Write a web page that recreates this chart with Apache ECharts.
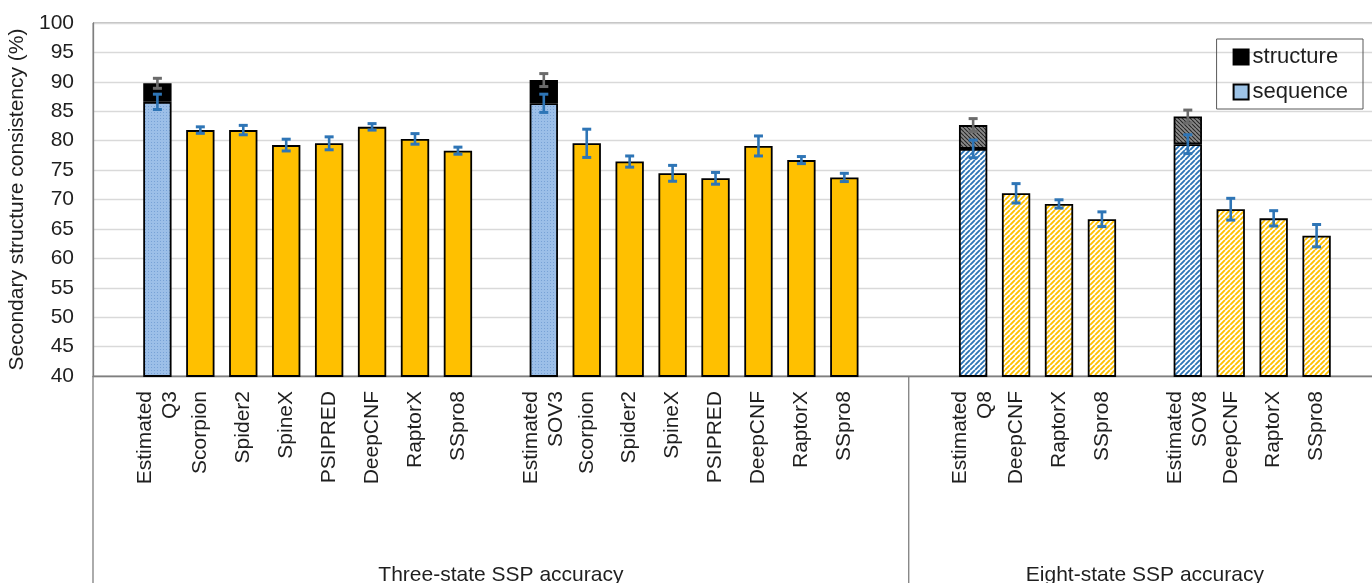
<!DOCTYPE html>
<html>
<head>
<meta charset="utf-8">
<script src="https://cdn.jsdelivr.net/npm/echarts@6/dist/echarts.min.js"></script>
<style>
  html, body { margin: 0; padding: 0; background: #fff; }
  #chart { width: 1372px; height: 583px; }
</style>
</head>
<body>
<div id="chart"></div>
<script>
// Category slots along the x axis (blank strings are spacer slots between groups)
const categories = [
  '', 'Estimated\nQ3', 'Scorpion', 'Spider2', 'SpineX', 'PSIPRED', 'DeepCNF', 'RaptorX', 'SSpro8',
  '', 'Estimated\nSOV3', 'Scorpion', 'Spider2', 'SpineX', 'PSIPRED', 'DeepCNF', 'RaptorX', 'SSpro8',
  '', '', 'Estimated\nQ8', 'DeepCNF', 'RaptorX', 'SSpro8',
  '', 'Estimated\nSOV8', 'DeepCNF', 'RaptorX', 'SSpro8', ''
];

// Group captions and how many category slots each group spans
const groupLabels = ['Three-state SSP accuracy', 'Eight-state SSP accuracy'];
const groupSpans = [19, 11];

// Estimated consistency: sequence part and total (sequence + structure)
const sequence = [
  null, 86.6, null, null, null, null, null, null, null,
  null, 86.35, null, null, null, null, null, null, null,
  null, null, 78.6, null, null, null,
  null, 79.4, null, null, null, null
];
const sequenceErr = [
  null, 1.3, null, null, null, null, null, null, null,
  null, 1.55, null, null, null, null, null, null, null,
  null, null, 1.5, null, null, null,
  null, 1.6, null, null, null, null
];
const estimatedTotal = [
  null, 89.75, null, null, null, null, null, null, null,
  null, 90.3, null, null, null, null, null, null, null,
  null, null, 82.65, null, null, null,
  null, 84.1, null, null, null, null
];
const estimatedTotalErr = [
  null, 0.85, null, null, null, null, null, null, null,
  null, 1.1, null, null, null, null, null, null, null,
  null, null, 1.1, null, null, null,
  null, 1.1, null, null, null, null
];

// Predictor accuracy and its spread
const predictors = [
  null, null, 81.8, 81.8, 79.25, 79.55, 82.35, 80.3, 78.3,
  null, null, 79.55, 76.45, 74.45, 73.6, 79.1, 76.7, 73.75,
  null, null, null, 71.05, 69.25, 66.65,
  null, null, 68.35, 66.8, 63.85, null
];
const predictorsErr = [
  null, null, 0.55, 0.8, 1.0, 1.1, 0.55, 0.9, 0.6,
  null, null, 2.4, 0.95, 1.35, 1.0, 1.7, 0.6, 0.7,
  null, null, null, 1.65, 0.7, 1.25,
  null, null, 1.85, 1.3, 1.9, null
];

const yTicks = { min: 40, max: 100, step: 5 };

// ---- fill patterns ----
// rising = true draws "/" stripes, false draws "\" stripes
function stripes(bg, fg, size, lw, rising) {
  const c = document.createElement('canvas');
  c.width = c.height = size;
  const g = c.getContext('2d');
  g.fillStyle = bg; g.fillRect(0, 0, size, size);
  g.strokeStyle = fg; g.lineWidth = lw;
  g.beginPath();
  for (const o of [-size, 0, size]) {
    if (rising) { g.moveTo(o, size); g.lineTo(o + size, 0); }
    else { g.moveTo(o, 0); g.lineTo(o + size, size); }
  }
  g.stroke();
  return { image: c, repeat: 'repeat' };
}
function dots(bg, fg) {
  const c = document.createElement('canvas');
  c.width = c.height = 3;
  const g = c.getContext('2d');
  g.fillStyle = bg; g.fillRect(0, 0, 3, 3);
  g.fillStyle = fg; g.fillRect(1, 1, 1, 1);
  return { image: c, repeat: 'repeat' };
}

const BLUE_ERR = '#2e75b6';
const GRAY_ERR = '#6b6b6b';
const ORANGE = '#ffc000';
const LIGHT_BLUE = '#9dc3e6';

const dotBlue = dots('#9cbfe8', '#78a2d6');
const stripeBlue = stripes('#ffffff', '#2e75b6', 5, 1.9, true);
const stripeOrange = stripes('#ffffff', ORANGE, 5, 1.9, true);
const hatchGray = stripes('#8a8a8a', '#262626', 4, 1.1, false);

const eightStart = groupSpans[0];
const isEight = i => i >= eightStart;

const seqData = sequence.map((v, i) => v == null ? '-' : {
  value: v, itemStyle: { color: isEight(i) ? stripeBlue : dotBlue }
});
const structData = estimatedTotal.map((v, i) => v == null ? '-' : {
  value: +(v - sequence[i]).toFixed(3), itemStyle: { color: isEight(i) ? hatchGray : '#000' }
});
const predData = predictors.map((v, i) => v == null ? '-' : {
  value: v, itemStyle: { color: isEight(i) ? stripeOrange : ORANGE }
});

function errRows(vals, errs) {
  const rows = [];
  vals.forEach((v, i) => { if (v != null && errs[i] != null) rows.push([i, v - errs[i], v + errs[i]]); });
  return rows;
}
const blueErr = errRows(sequence, sequenceErr).concat(errRows(predictors, predictorsErr));
const grayErr = errRows(estimatedTotal, estimatedTotalErr);

function errorBar(color) {
  return function (params, api) {
    const x = api.value(0);
    const lo = api.coord([x, api.value(1)]);
    const hi = api.coord([x, api.value(2)]);
    const hw = 4.5;
    const style = { stroke: color, lineWidth: 2.6, fill: null };
    const cap = { stroke: color, lineWidth: 3, fill: null };
    return {
      type: 'group',
      children: [
        { type: 'line', shape: { x1: lo[0], y1: lo[1], x2: hi[0], y2: hi[1] }, style },
        { type: 'line', shape: { x1: lo[0] - hw, y1: lo[1], x2: lo[0] + hw, y2: lo[1] }, style: cap },
        { type: 'line', shape: { x1: hi[0] - hw, y1: hi[1], x2: hi[0] + hw, y2: hi[1] }, style: cap }
      ]
    };
  };
}

// Secondary axis carries the group captions at the middle slot of each group
const groupAxisData = categories.map(() => '');
let start = 0;
groupSpans.forEach((span, g) => {
  groupAxisData[start + Math.floor(span / 2)] = groupLabels[g];
  start += span;
});

const FONT = '"Liberation Sans", Arial, sans-serif';
const TEXT = '#1f1f1f';

const chart = echarts.init(document.getElementById('chart'), null, { renderer: 'canvas' });
chart.setOption({
  animation: false,
  backgroundColor: '#fff',
  textStyle: { fontFamily: FONT },
  grid: {
    left: 93, top: 23, bottom: 207, right: -9,
    outerBoundsMode: 'none',
    show: true, borderColor: '#808080', borderWidth: 1
  },
  legend: {
    data: ['structure', 'sequence'],
    orient: 'vertical',
    right: 9, top: 39,
    icon: 'rect',
    borderColor: '#595959', borderWidth: 1,
    padding: [7, 15, 6, 16],
    itemWidth: 15, itemHeight: 15, itemGap: 13,
    textStyle: { fontSize: 22, color: TEXT, fontFamily: FONT, padding: [0, 0, 0, -1] }
  },
  xAxis: [
    {
      type: 'category',
      data: categories,
      axisLine: { lineStyle: { color: '#7f7f7f', width: 1.3 } },
      axisTick: { show: false },
      axisLabel: {
        interval: 0, rotate: 90, fontSize: 21, lineHeight: 25,
        margin: 15, color: TEXT, fontFamily: FONT
      }
    },
    {
      type: 'category',
      data: groupAxisData,
      position: 'bottom',
      axisLine: { show: false },
      axisTick: { show: false },
      axisLabel: { interval: 0, fontSize: 21, margin: 189, color: TEXT, fontFamily: FONT }
    }
  ],
  yAxis: {
    type: 'value',
    min: yTicks.min, max: yTicks.max, interval: yTicks.step,
    name: 'Secondary structure consistency (%)',
    nameLocation: 'middle', nameGap: 58,
    nameTextStyle: { fontSize: 21, color: TEXT, fontFamily: FONT },
    axisLine: { show: true, lineStyle: { color: '#7f7f7f', width: 1.3 } },
    axisTick: { show: false },
    axisLabel: { fontSize: 21, margin: 19, color: TEXT, fontFamily: FONT },
    splitLine: { lineStyle: { color: '#d9d9d9', width: 1.3 } }
  },
  series: [
    {
      name: 'sequence', type: 'bar', stack: 'all', barWidth: '66%',
      itemStyle: { color: LIGHT_BLUE, borderColor: '#000', borderWidth: 1.8 },
      data: seqData, z: 2
    },
    {
      name: 'structure', type: 'bar', stack: 'all', barWidth: '66%',
      itemStyle: { color: '#000', borderColor: '#000', borderWidth: 1.8 },
      data: structData, z: 2
    },
    {
      name: 'predictor', type: 'bar', stack: 'all', barWidth: '66%',
      itemStyle: { color: ORANGE, borderColor: '#000', borderWidth: 1.8 },
      data: predData, z: 2
    },
    {
      name: 'structure error', type: 'custom', renderItem: errorBar(GRAY_ERR),
      data: grayErr, z: 10, encode: { x: 0, y: [1, 2] }
    },
    {
      name: 'sequence error', type: 'custom', renderItem: errorBar(BLUE_ERR),
      data: blueErr, z: 11, encode: { x: 0, y: [1, 2] }
    }
  ]
});

// Vertical separators of the grouped category axis, placed through the axis scale
const c0 = chart.convertToPixel({ xAxisIndex: 0 }, 0);
const c1 = chart.convertToPixel({ xAxisIndex: 0 }, 1);
const band = c1 - c0;
const yBase = chart.convertToPixel({ yAxisIndex: 0 }, yTicks.min);
const bounds = [0];
groupSpans.forEach(s => bounds.push(bounds[bounds.length - 1] + s));
chart.setOption({
  graphic: bounds.map(b => ({
    type: 'line',
    shape: { x1: c0 + (b - 0.5) * band, y1: yBase, x2: c0 + (b - 0.5) * band, y2: chart.getHeight() },
    style: { stroke: '#7f7f7f', lineWidth: 1.3 }
  }))
});
</script>
</body>
</html>
